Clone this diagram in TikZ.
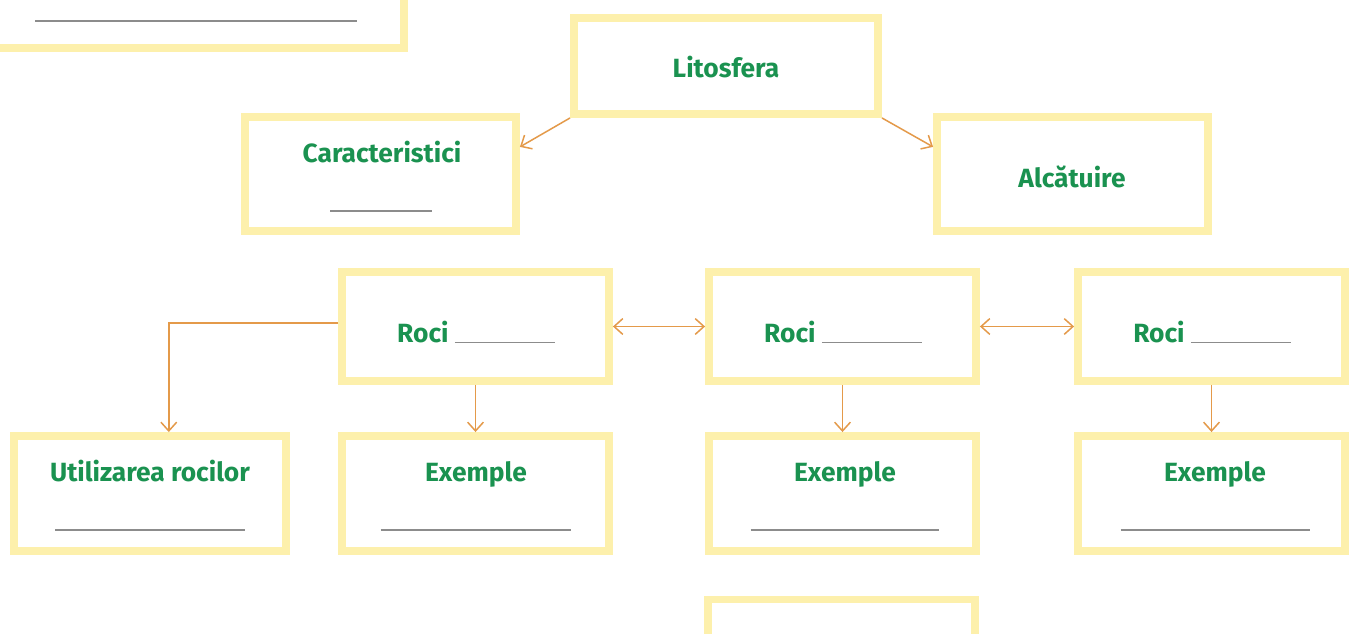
\documentclass[tikz,border=0pt]{standalone}
\usepackage{fontspec}
\setmainfont{Fira Sans}
\usetikzlibrary{arrows.meta,shadows}
\definecolor{boxyellow}{RGB}{253,240,172}
\definecolor{titlegreen}{RGB}{26,146,80}
\definecolor{arroworange}{RGB}{228,154,74}
\definecolor{lineg}{RGB}{140,140,140}
\newcommand{\blankline}[1]{{\color{lineg}\rule{#1}{0.8pt}}}
\tikzset{
	box/.style={draw=boxyellow,line width=4.5pt,fill=white,minimum width=5.34cm,minimum height=2.2cm,drop shadow={opacity=0.08,shadow xshift=0.6pt,shadow yshift=-0.6pt}},
	title/.style={anchor=base,text=titlegreen,font=\fontsize{15}{18}\selectfont\bfseries,inner sep=0pt},
	gap/.style={inner sep=0pt},
	link/.style={draw=arroworange,line width=0.85pt,-{Straight Barb[length=5pt,width=9pt]}},
	twoway/.style={link,{Straight Barb[length=5pt,width=9pt]}-{Straight Barb[length=5pt,width=9pt]}}
}
\begin{document}
\begin{tikzpicture}[x=0.02cm,y=-0.02cm]
	\useasboundingbox[fill=white] (0,0) rectangle (1354,634);
	% boxes
	\node[box,minimum width=8.56cm,minimum height=2.72cm] (prev) at (190,-20) {};
	\node[box,minimum width=6.08cm,minimum height=1.92cm] (lito) at (726,66) {};
	\node[box,minimum width=5.42cm,minimum height=2.28cm] (carac) at (380.5,174) {};
	\node[box,minimum width=5.42cm,minimum height=2.28cm] (alc) at (1072.5,174) {};
	\node[box,minimum height=2.18cm] (roci1) at (475.5,326.5) {};
	\node[box,minimum height=2.18cm] (roci2) at (842.5,326.5) {};
	\node[box,minimum height=2.18cm] (roci3) at (1211.5,326.5) {};
	\node[box,minimum width=5.44cm,minimum height=2.3cm] (util) at (150,493.5) {};
	\node[box,minimum height=2.3cm] (ex1) at (475.5,493.5) {};
	\node[box,minimum height=2.3cm] (ex2) at (842.5,493.5) {};
	\node[box,minimum height=2.3cm] (ex3) at (1211.5,493.5) {};
	\node[box,minimum height=2.3cm] (next) at (841.5,657) {};
	% texts
	\node[gap] at (196,21) {\blankline{6.44cm}};
	\node[title] at (726,78) {Litosfera};
	\node[title] at (382,163) {Caracteristici};\node[gap] at (381,211) {\blankline{2.04cm}};
	\node[title] at (1072,188) {Alcătuire};
	\node[title] at (476,343) {Roci \blankline{2cm}};
	\node[title] at (843,343) {Roci \blankline{2cm}};
	\node[title] at (1212,343) {Roci \blankline{2cm}};
	\node[title] at (150,481) {Utilizarea rocilor};\node[gap] at (150,530) {\blankline{3.8cm}};
	\node[title] at (476,481) {Exemple};\node[gap] at (476,530) {\blankline{3.82cm}};
	\node[title] at (845,481) {Exemple};\node[gap] at (845,530) {\blankline{3.78cm}};
	\node[title] at (1215,481) {Exemple};\node[gap] at (1215,530) {\blankline{3.78cm}};
	% connectors
	\draw[link] (lito.south west)--(carac.11);
	\draw[link] (lito.south east)--(alc.169);
	\draw[twoway] (roci1.east)--(roci2.west);
	\draw[twoway] (roci2.east)--(roci3.west);
	\draw[link] (roci1.south)--(ex1.north);
	\draw[link] (roci2.south)--(ex2.north);
	\draw[link] (roci3.south)--(ex3.north);
	\draw[link] ([yshift=2pt]roci1.west)-|(util.73);
\end{tikzpicture}
\end{document}
